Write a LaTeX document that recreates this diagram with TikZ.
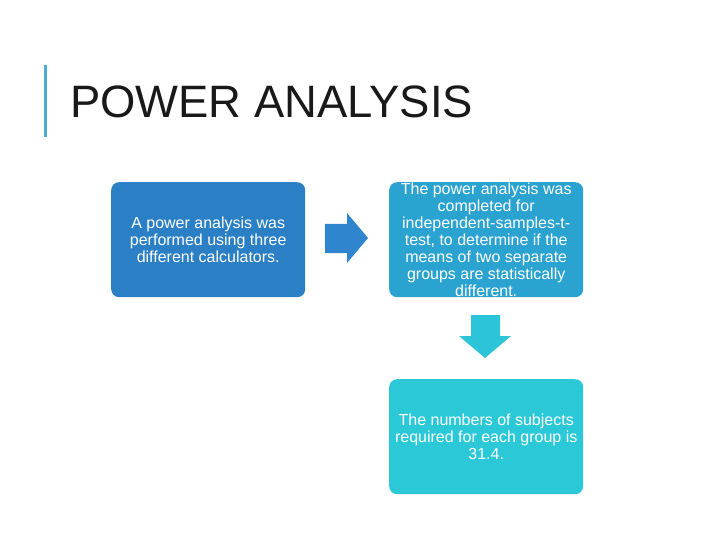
\documentclass[tikz,border=0pt]{standalone}
\usepackage{fontspec}
\setmainfont{Liberation Sans}
\definecolor{barblue}{HTML}{4AACD2}
\definecolor{boxa}{HTML}{2B7FC4}
\definecolor{boxb}{HTML}{2BA3D0}
\definecolor{boxc}{HTML}{2BC9D8}
\definecolor{arra}{HTML}{2F86CE}
\definecolor{arrb}{HTML}{2BC4D8}
\begin{document}
\begin{tikzpicture}[x=1pt,y=-1pt,
  stepbox/.style={rounded corners=8pt,inner sep=0pt,minimum width=194pt,minimum height=115pt,anchor=north west},
  boxtext/.style={text=white,font=\fontsize{16}{17}\selectfont,align=center,inner sep=0pt}]
\useasboundingbox[fill=white] (0,0) rectangle (720,540);
\fill[barblue] (44,65) rectangle (47,137);
\node[anchor=base west,inner sep=0pt,text=black!90,font=\fontsize{45.4}{50}\selectfont] (title) at (70,118) {POWER ANALYSIS};
\node[stepbox,fill=boxa,label={[boxtext]center:A power analysis was\\performed using three\\different calculators.}] (b1) at (111,182) {};
\node[stepbox,fill=boxb,label={[boxtext]center:The power analysis was\\completed for\\independent-samples-t-\\test, to determine if the\\means of two separate\\groups are statistically\\different.}] (b2) at (389,182) {};
\node[stepbox,fill=boxc,label={[boxtext]center:The numbers of subjects\\required for each group is\\31.4.}] (b3) at (389,379) {};
\fill[arra] (325,224) -- (347,224) -- (347,213) -- (368,238) -- (347,263) -- (347,253) -- (325,253) -- cycle;
\fill[arrb] (471,315) -- (500,315) -- (500,336) -- (511,336) -- (485,358) -- (459,336) -- (471,336) -- cycle;
\end{tikzpicture}
\end{document}
